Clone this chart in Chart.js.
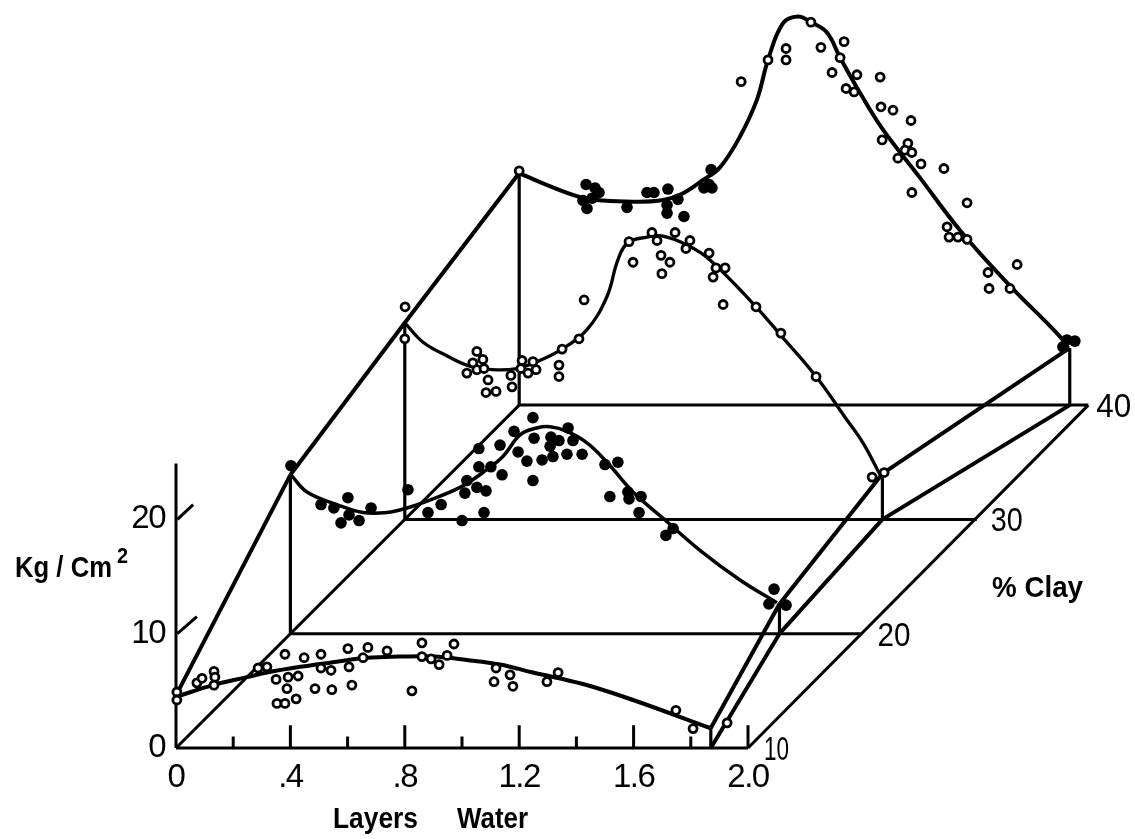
<!DOCTYPE html>
<html lang="en">

<head>
    <meta charset="UTF-8">
    <title>Kg / Cm2 vs Layers Water</title>
    <script src="https://cdn.jsdelivr.net/npm/chart.js"></script>
    <style>
        * {
            box-sizing: border-box;
            margin: 0;
            padding: 0;
        }

        body {
            background-color: #fff;
        }

        canvas {
            display: block;
        }
    </style>
</head>

<body>
    <canvas id="clayChart" width="1135" height="839"></canvas>

    <script>
        // readings per clay level, water in layers and strength in kg/cm2
        const openWater10 = [.003, .003, .073, .091, .133, .136, .133, .287, .318, .381, .35, .392, .427, .388, .42, .353, .381, .448, .507, .507, .542, .486, .545, .601, .605, .615, .654, .671, .738, .86, .86, .892, .92, .948, .972, .825, 1.119, 1.168, 1.112, 1.178, 1.297, 1.336, 1.748, 1.808, 1.927];
        const openKg10 = [4.9, 4.2, 5.7, 6.1, 6.7, 6.2, 5.5, 7.0, 7.1, 8.2, 6.0, 6.2, 6.3, 5.2, 4.3, 3.9, 3.9, 7.9, 8.2, 7.0, 6.8, 5.2, 5.1, 8.7, 7.1, 5.5, 7.9, 8.8, 8.5, 9.2, 8.0, 7.8, 7.3, 8.1, 9.1, 5.0, 7.0, 6.4, 5.8, 5.4, 5.8, 6.6, 3.3, 1.7, 2.2];
        const curveWater10 = [.003, .129, .248, .318, .434, .549, .668, .783, .899, 1.017, 1.133, 1.248, 1.423, 1.598, 1.867];
        const curveKg10 = [4.5, 5.5, 6.2, 6.6, 7.1, 7.5, 7.9, 8.0, 8.0, 7.7, 7.3, 6.6, 5.6, 4.2, 1.75];

        const filledWater20 = [.002, .107, .152, .201, .205, .177, .24, .282, .411, .481, .527, .6, .677, .61, .617, .652, .684, .659, .701, .659, .74, .733, .782, .848, .852, .796, .827, .88, .848, .911, .939, .908, .918, .967, .971, .988, 1.02, 1.1, 1.145, 1.117, 1.18, 1.184, 1.226, 1.219, 1.338, 1.313, 1.691, 1.673, 1.733];
        const filledKg20 = [14.7, 11.3, 11.0, 11.9, 10.4, 9.7, 9.9, 11.0, 12.6, 10.6, 11.3, 9.9, 10.6, 12.3, 13.4, 12.8, 12.5, 14.6, 14.6, 16.2, 13.9, 16.5, 17.7, 18.9, 17.1, 15.9, 15.1, 15.2, 13.4, 17.2, 16.9, 16.4, 15.5, 15.7, 18.0, 16.9, 15.7, 14.8, 15.0, 12.0, 12.4, 11.8, 12.0, 10.6, 9.2, 8.6, 3.9, 2.6, 2.5];
        const curveWater20 = [.002, .058, .163, .254, .338, .408, .478, .593, .673, .743, .803, .862, .908, .967, 1.037, 1.107, 1.198, 1.303, 1.432, 1.572, 1.701];
        const curveKg20 = [13.9, 12.4, 11.3, 10.6, 10.6, 11.0, 11.6, 12.8, 14.1, 15.5, 17.4, 18.0, 18.1, 17.7, 16.7, 15.0, 12.4, 10.1, 7.3, 4.7, 2.7];

        const openWater30 = [.001, 0, .252, .273, .238, .252, .277, .217, .291, .284, .319, .371, .375, .41, .406, .431, .448, .459, .539, .539, .55, .609, .627, .784, .798, .864, .882, .896, .927, .899, .945, .997, .983, 1.064, 1.088, 1.12, 1.078, 1.113, 1.228, 1.315, 1.438, 1.634, 1.676];
        const openKg30 = [18.6, 15.8, 14.7, 14.0, 13.7, 13.1, 13.2, 12.8, 12.2, 11.1, 11.2, 12.6, 11.6, 13.9, 13.2, 12.8, 13.8, 13.1, 13.5, 12.5, 14.9, 15.8, 19.2, 24.3, 22.5, 25.1, 24.4, 23.1, 22.5, 21.5, 25.1, 24.4, 23.7, 23.3, 22.0, 22.0, 21.2, 18.8, 18.6, 16.3, 12.5, 3.7, 4.1];
        const curveWater30 = [0, .064, .148, .228, .308, .392, .462, .55, .637, .707, .745, .78, .847, .899, .987, 1.067, 1.228, 1.315, 1.438, 1.546, 1.602, 1.662];
        const curveKg30 = [17.2, 15.5, 14.3, 13.4, 13.1, 13.2, 13.8, 14.9, 16.6, 19.5, 22.7, 24.2, 24.7, 24.8, 24.0, 22.7, 18.6, 16.1, 12.5, 8.7, 6.7, 3.9];

        const filledWater40 = [.234, .265, .279, .223, .255, .237, .377, .447, .471, .52, .517, .517, .555, .576, .671, .664, .646, .674, 1.915, 1.943, 1.901];
        const filledKg40 = [19.3, 19.0, 18.6, 17.9, 18.1, 17.2, 17.3, 18.6, 18.6, 18.9, 17.5, 16.8, 18.0, 16.5, 20.6, 19.3, 19.0, 19.0, 5.7, 5.6, 5.1];
        const openWater40 = [0, .776, .87, .933, .933, 1.02, 1.055, 1.136, 1.122, 1.094, 1.181, 1.143, 1.171, 1.262, 1.265, 1.307, 1.37, 1.269, 1.359, 1.349, 1.373, 1.324, 1.405, 1.485, 1.373, 1.566, 1.496, 1.503, 1.534, 1.566, 1.741, 1.639, 1.643, 1.716];
        const openKg40 = [20.5, 28.3, 30.2, 31.2, 30.2, 33.5, 31.3, 31.8, 30.4, 29.1, 28.9, 27.7, 27.4, 28.7, 26.1, 25.8, 24.9, 23.2, 22.9, 22.3, 22.1, 21.6, 21.1, 20.7, 18.6, 17.7, 15.6, 14.7, 14.7, 14.5, 12.3, 11.6, 10.2, 10.2];
        const curveWater40 = [0, .083, .213, .293, .398, .492, .562, .643, .702, .772, .831, .87, .922, .975, 1.02, 1.076, 1.122, 1.192, 1.272, 1.401, 1.541, 1.706, 1.891, 1.919];
        const curveKg40 = [20.3, 19.4, 18.2, 17.9, 17.8, 17.9, 18.4, 19.7, 20.8, 23.5, 26.7, 30.2, 33.4, 34.0, 33.5, 32.6, 30.4, 27.3, 24.1, 19.9, 15.3, 10.7, 6.0, 5.0];

        // frame of the oblique plot
        const clayLevels = [10, 20, 30, 40];
        const startKg = [4.6, 13.9, 17.2, 20.3];
        const endWater = [1.87, 1.71, 1.67, 1.925];
        const endKg = [1.75, 2.6, 4.0, 5.0];

        const xTickValues = [0, .2, .4, .6, .8, 1.0, 1.2, 1.4, 1.6, 1.8, 2.0];
        const xTickLabels = ['0', '', '.4', '', '.8', '', '1.2', '', '1.6', '', '2.0'];
        const yTickValues = [0, 10, 20];

        const labelFont = '"Liberation Sans", sans-serif';

        // oblique projection: each 10% of clay shifts .4 along water and 10 up kg
        function place(clay, water, kg) {
            return { x: water + (clay - 10) * 0.04, y: kg + (clay - 10) };
        }

        function zip(clay, waters, kgs) {
            return waters.map((w, i) => place(clay, w, kgs[i]));
        }

        // several straight pieces in one dataset, broken by gaps
        function segments(list) {
            const out = [];
            list.forEach(seg => {
                out.push(...seg, { x: NaN, y: NaN });
            });
            return out;
        }

        function pointSet(data, filled) {
            return {
                data: data,
                showLine: false,
                pointRadius: filled ? 5.8 : 4,
                pointBorderWidth: filled ? 0 : 2.8,
                pointBorderColor: '#000',
                pointBackgroundColor: filled ? '#000' : '#fff'
            };
        }

        function curveSet(data, width) {
            return {
                data: data,
                showLine: true,
                pointRadius: 0,
                borderColor: '#000',
                borderWidth: width,
                tension: 0.4
            };
        }

        function frameSet(list, width) {
            return {
                data: segments(list),
                showLine: true,
                spanGaps: false,
                pointRadius: 0,
                borderColor: '#000',
                borderWidth: width,
                tension: 0
            };
        }

        const thinLines = [
            [place(10, 0, 0), place(40, 0, 0)],
            [place(10, 2, 0), place(40, 1.99, 0)],
            [place(20, 0, 0), place(20, 2, 0)],
            [place(30, 0, 0), place(30, 2, 0)],
            [place(40, 0, 0), place(40, 1.99, 0)],
            [place(10, 0, 0), place(10, 2, 0)]
        ];

        const ridgeLines = clayLevels.slice(0, 3).map((clay, i) => [place(clay, 0, startKg[i]), place(clayLevels[i + 1], 0, startKg[i + 1])])
            .concat(clayLevels.slice(0, 3).map((clay, i) => [place(clay, endWater[i], endKg[i]), place(clayLevels[i + 1], endWater[i + 1], endKg[i + 1])]))
            .concat(clayLevels.slice(0, 3).map((clay, i) => [place(clay, endWater[i], 0), place(clayLevels[i + 1], endWater[i + 1], 0)]));

        const riserLines = clayLevels.slice(1).map((clay, i) => [place(clay, 0, 0), place(clay, 0, startKg[i + 1])])
            .concat(clayLevels.map((clay, i) => [place(clay, endWater[i], 0), place(clay, endWater[i], endKg[i])]));

        const axisLines = [
            [{ x: 0, y: 0 }, { x: 0, y: 24.9 }],
            [{ x: 0.005, y: 10 }, { x: 0.073, y: 11.5 }],
            [{ x: 0.005, y: 20 }, { x: 0.06, y: 21.3 }]
        ];

        const tickMarks = xTickValues.map((v, i) => [{ x: v, y: 0 }, { x: v, y: xTickLabels[i] ? 2.0 : 1.0 }]).slice(1);

        // squeeze lettering to the width it has in the figure
        function fitText(c, text, x, y, width) {
            const natural = c.measureText(text).width;
            c.save();
            c.translate(x, y);
            c.scale(width / natural, 1);
            c.fillText(text, 0, 0);
            c.restore();
        }

        // text that the axes do not carry
        const clayLabels = ['10', '20', '30', '40'];
        const clayLabelWidths = [25, 33, 32, 35];
        const clayLabelGaps = [16, 15, 14, 5];
        const extraText = {
            id: 'extraText',
            beforeDraw(chart) {
                chart.ctx.letterSpacing = '-1.5px';
            },
            afterDraw(chart) {
                const { ctx, scales } = chart;
                ctx.letterSpacing = '0px';
                ctx.save();
                ctx.fillStyle = '#000';
                ctx.textBaseline = 'alphabetic';
                ctx.textAlign = 'left';
                ctx.font = '34px ' + labelFont;
                clayLabels.forEach((label, i) => {
                    const p = place(clayLevels[i], 2, 0);
                    fitText(ctx, label, scales.x.getPixelForValue(p.x) + clayLabelGaps[i], scales.y.getPixelForValue(p.y) + 12, clayLabelWidths[i]);
                });
                ctx.font = 'bold 30px ' + labelFont;
                fitText(ctx, '% Clay', 992, 597, 91);
                fitText(ctx, 'Layers', 333, 828, 85);
                fitText(ctx, 'Water', 457, 828, 71);
                fitText(ctx, 'Kg / Cm', 15, 577, 97);
                ctx.font = 'bold 22px ' + labelFont;
                fitText(ctx, '2', 117, 563, 11);
                ctx.restore();
            }
        };

        const ctx = document.getElementById('clayChart').getContext('2d');

        const chart = new Chart(ctx, {
            type: 'scatter',
            data: {
                datasets: [
                    pointSet(zip(10, openWater10, openKg10), false),
                    pointSet(zip(20, filledWater20, filledKg20), true),
                    pointSet(zip(30, openWater30, openKg30), false),
                    pointSet(zip(40, openWater40, openKg40), false),
                    pointSet(zip(40, filledWater40, filledKg40), true),
                    curveSet(zip(10, curveWater10, curveKg10), 4),
                    curveSet(zip(20, curveWater20, curveKg20), 3.5),
                    curveSet(zip(30, curveWater30, curveKg30), 3.3),
                    curveSet(zip(40, curveWater40, curveKg40), 4),
                    frameSet(ridgeLines, 4),
                    frameSet(riserLines, 3.2),
                    frameSet(axisLines, 3),
                    frameSet(tickMarks, 3),
                    frameSet(thinLines, 3)
                ]
            },
            options: {
                responsive: false,
                animation: false,
                layout: { padding: 0, autoPadding: false },
                plugins: {
                    legend: { display: false },
                    tooltip: { enabled: false }
                },
                scales: {
                    x: {
                        type: 'linear',
                        position: { y: 0 },
                        min: -176 / 286,
                        max: (1135 - 176) / 286,
                        border: { display: false },
                        grid: { display: false, drawTicks: false },
                        afterBuildTicks: scale => {
                            scale.ticks = xTickValues.map(value => ({ value }));
                        },
                        afterFit: scale => {
                            scale.paddingLeft = 0;
                            scale.paddingRight = 0;
                        },
                        ticks: {
                            autoSkip: false,
                            maxRotation: 0,
                            padding: 10,
                            color: '#000',
                            font: { family: labelFont, size: 33 },
                            callback: value => xTickLabels[xTickValues.indexOf(value)]
                        }
                    },
                    y: {
                        type: 'linear',
                        position: { x: -0.0385 },
                        min: -(839 - 748) / 11.43,
                        max: 748 / 11.43,
                        border: { display: false },
                        grid: { display: false, drawTicks: false },
                        afterBuildTicks: scale => {
                            scale.ticks = yTickValues.map(value => ({ value }));
                        },
                        afterFit: scale => {
                            scale.paddingTop = 0;
                            scale.paddingBottom = 0;
                        },
                        ticks: {
                            autoSkip: false,
                            padding: 0,
                            color: '#000',
                            font: { family: labelFont, size: 33 }
                        }
                    }
                }
            },
            plugins: [extraText]
        });
    </script>
</body>

</html>
